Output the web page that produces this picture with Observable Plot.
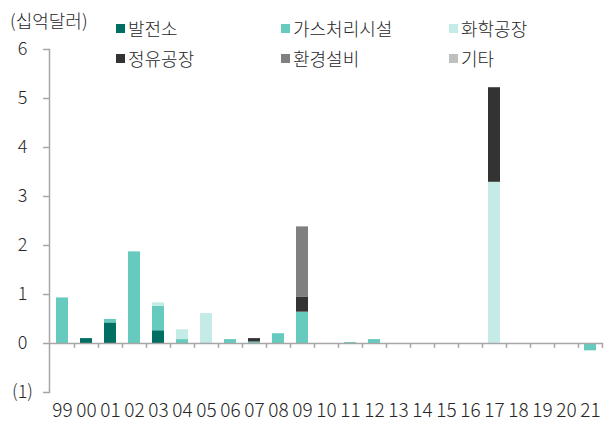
<!DOCTYPE html>
<html>
<head>
<meta charset="utf-8">
<script src="https://cdn.jsdelivr.net/npm/d3@7"></script>
<script src="https://cdn.jsdelivr.net/npm/@observablehq/plot@0.6"></script>
<style>
  html, body { margin: 0; padding: 0; background: #fff; }
  #wrap { position: relative; width: 611px; height: 425px; font-family: "Noto Sans CJK KR", "Noto Sans", sans-serif; font-weight: 300; color: #262626; }
  #unit { position: absolute; left: 10px; top: 6px; font-size: 18px; line-height: 28px; }
  .lg { position: absolute; font-size: 18px; line-height: 28px; white-space: nowrap; display: flex; align-items: center; }
  .lg i { display: inline-block; width: 9px; height: 9px; margin-right: 3px; }
  svg { position: absolute; left: 0; top: 0; }
</style>
</head>
<body>
<div id="wrap"></div>
<script>
const years = ["99","00","01","02","03","04","05","06","07","08","09","10","11","12","13","14","15","16","17","18","19","20","21"];
const series = ["발전소","가스처리시설","화학공장","정유공장","환경설비","기타"];
const colors = ["#006e62","#66cbbe","#c4ebe6","#333333","#808080","#bfbfbf"];
const power    = [0,0.10,0.42,0,0.26,0,0,0,0,0,0,0,0,0,0,0,0,0,0,0,0,0,0];
const gas      = [0.93,0,0.07,1.87,0.50,0.08,0.01,0.08,0.03,0.20,0.64,0,0.02,0.08,0,0,0,0,0,0,0,0,-0.15];
const chemical = [0,0,0,0,0.07,0.20,0.60,0,0,0,0,0,0,0,0,0,0,0,3.29,0,0,0,0];
const refinery = [0,0,0,0,0,0,0,0,0.07,0,0.31,0,0,0,0,0,0,0,1.93,0,0,0,0];
const environ  = [0,0,0,0,0,0,0,0,0,0,1.43,-0.02,0,0,0,0,0,0,0,0,0,0,0];
const other    = [0,0,0,0,0,0,0,0,0,0,0,0,0,0,0,0,0,0,0,0,0,0,0];
const yTicks = [-1,0,1,2,3,4,5,6];

const seriesValues = [power, gas, chemical, refinery, environ, other];
const data = [];
series.forEach((s, si) => {
  years.forEach((y, yi) => {
    const v = seriesValues[si][yi];
    if (v !== 0) data.push({year: y, type: s, value: v});
  });
});

const grey = "#a6a6a6";
const chart = Plot.plot({
  width: 611,
  height: 425,
  marginTop: 49,
  marginBottom: 33,
  marginLeft: 49,
  marginRight: 8,
  style: {fontFamily: '"Noto Sans CJK KR", "Noto Sans", sans-serif', fontWeight: 300, fontSize: "18px", color: "#262626", background: "transparent"},
  x: {domain: years, paddingInner: 0.5, paddingOuter: 0.25},
  y: {domain: [-1, 6]},
  color: {domain: series, range: colors},
  marks: [
    Plot.barY(data, Plot.stackY({x: "year", y: "value", fill: "type", order: series})),
    Plot.frame({anchor: "left", stroke: grey, strokeWidth: 1.5}),
    Plot.ruleY([0], {stroke: grey, strokeWidth: 1.5}),
    Plot.ruleX(years, {x: d => d, y1: 0, y2: -0.1, dx: 12, stroke: grey, strokeWidth: 1.5}),
    Plot.axisY({ticks: yTicks, tickSize: 6, tickPadding: 21, textAnchor: "middle", stroke: grey, strokeWidth: 1.5,
      tickFormat: d => d < 0 ? `(${-d})` : `${d}`, label: null, fill: "#262626"}),
    Plot.axisX({tickSize: 0, tickPadding: 11, label: null, fill: "#262626", fontSize: 19, letterSpacing: -1.2})
  ]
});

const wrap = document.getElementById("wrap");
wrap.appendChild(chart);
const unit = document.createElement("div");
unit.id = "unit";
unit.textContent = "(십억달러)";
wrap.appendChild(unit);
const cols = [116, 281, 449];
const rows = [14, 44];
series.forEach((s, i) => {
  const d = document.createElement("div");
  d.className = "lg";
  d.style.left = cols[i % 3] + "px";
  d.style.top = rows[Math.floor(i / 3)] + "px";
  d.innerHTML = `<i style="background:${colors[i]}"></i>${s}`;
  wrap.appendChild(d);
});
</script>
</body>
</html>
